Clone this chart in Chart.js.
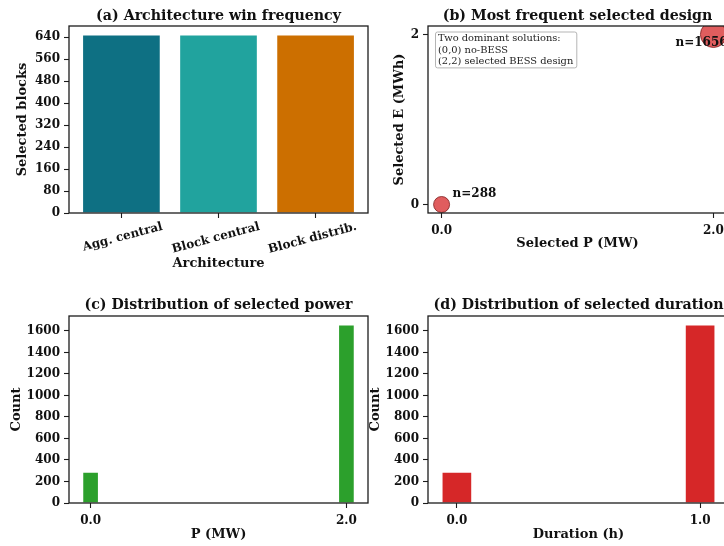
<!DOCTYPE html>
<html>
<head>
<meta charset="utf-8">
<script src="https://cdn.jsdelivr.net/npm/chart.js@4.4.1/dist/chart.umd.min.js"></script>
<style>
  html, body { margin: 0; padding: 0; background: #fff; width: 724px; height: 546px; overflow: hidden; }
  .panel { position: absolute; }
  canvas { display: block; }
</style>
</head>
<body>
<div class="panel" style="left:0px;top:0px"><canvas id="panelA" width="370" height="280" style="width:370px;height:280px"></canvas></div>
<div class="panel" style="left:370px;top:0px"><canvas id="panelB" width="360" height="280" style="width:360px;height:280px"></canvas></div>
<div class="panel" style="left:0px;top:280px"><canvas id="panelC" width="370" height="266" style="width:370px;height:266px"></canvas></div>
<div class="panel" style="left:360px;top:280px"><canvas id="panelD" width="370" height="266" style="width:370px;height:266px"></canvas></div>
<script>
// ---- data ----------------------------------------------------------------
const architectures = ['Agg. central', 'Block central', 'Block distrib.'];
const archWins = [648, 648, 648];
const archPositions = [0, 1, 2];
const archTicks = [0, 80, 160, 240, 320, 400, 480, 560, 640];

const designP = [0, 2];          // selected power, MW
const designE = [0, 2];          // selected energy, MWh
const designCount = [288, 1656];
const designPTicks = [0, 2];
const designETicks = [0, 2];
const designNote = ['Two dominant solutions:', '(0,0) no-BESS', '(2,2) selected BESS design'];

const powerValues = [0, 2];
const powerCounts = [288, 1656];
const powerTicks = [0, 2];

const durationValues = [0, 1];
const durationCounts = [288, 1656];
const durationTicks = [0, 1];

const countTicks = [0, 200, 400, 600, 800, 1000, 1200, 1400, 1600];

// ---- styling -------------------------------------------------------------
const FAMILY = "'DejaVu Serif', serif";
const INK = '#111';
const SPINE = '#1c1c1c';

Chart.defaults.font.family = FAMILY;
Chart.defaults.color = INK;
Chart.defaults.animation = false;

function scale(o) {
  const horiz = o.axis === 'x';
  return {
    type: 'linear',
    position: horiz ? 'bottom' : 'left',
    min: o.min,
    max: o.max,
    offset: false,
    grid: { display: true, offset: false, drawOnChartArea: false, drawTicks: true,
            tickLength: 5, tickWidth: 1.1, color: SPINE },
    border: { display: false },
    ticks: {
      color: INK,
      font: { family: FAMILY, size: 12, weight: 'bold' },
      padding: o.tickPad !== undefined ? o.tickPad : 4,
      autoSkip: false,
      minRotation: o.rotation || 0,
      maxRotation: o.rotation || 0,
      labelOffset: o.labelOffset || 0,
      callback: o.format
    },
    title: {
      display: true,
      text: o.title,
      color: INK,
      font: { family: FAMILY, size: 13, weight: 'bold' },
      padding: horiz ? { top: 0, bottom: o.titlePad } : { top: o.titlePad, bottom: 0 }
    },
    afterBuildTicks: s => { s.ticks = o.values.map(v => ({ value: v })); },
    afterFit: s => {
      if (horiz) { s.height = o.size; s.paddingLeft = 0; s.paddingRight = 0; }
      else { s.width = o.size; s.paddingTop = 0; s.paddingBottom = 0; }
    }
  };
}

function title(text, top, bottom) {
  return {
    display: true, text, fullSize: false, color: INK,
    font: { family: FAMILY, size: 14.2, weight: 'bold' },
    padding: { top, bottom }
  };
}

// box around the plotting area
const frame = {
  id: 'frame',
  afterDatasetsDraw(chart) {
    const { ctx, chartArea: a } = chart;
    ctx.save();
    ctx.strokeStyle = SPINE;
    ctx.lineWidth = 1.3;
    ctx.strokeRect(a.left, a.top, a.right - a.left, a.bottom - a.top);
    ctx.restore();
  }
};

// count labels beside the design points and the explanatory note
const designLabels = {
  id: 'designLabels',
  afterDraw(chart, args, opts) {
    const { ctx, chartArea: a } = chart;
    const xs = chart.scales.x, ys = chart.scales.y;
    ctx.save();
    ctx.fillStyle = INK;
    ctx.font = "bold 12px " + FAMILY;
    ctx.textBaseline = 'middle';
    ctx.textAlign = 'left';
    designCount.forEach((n, i) => {
      const [dx, dy] = opts.offsets[i];
      ctx.fillText('n=' + n, xs.getPixelForValue(designP[i]) + dx, ys.getPixelForValue(designE[i]) + dy);
    });

    ctx.font = "9.9px " + FAMILY;
    const lineH = 11.3;
    const w = Math.max(...designNote.map(t => ctx.measureText(t).width));
    const bx = a.left + 7.5, by = a.top + 6;
    ctx.beginPath();
    ctx.roundRect(bx, by, w + 6, lineH * designNote.length + 2, 2);
    ctx.fillStyle = 'rgba(255,255,255,0.85)';
    ctx.fill();
    ctx.strokeStyle = '#b5b5b5';
    ctx.lineWidth = 1;
    ctx.stroke();
    ctx.fillStyle = '#222';
    designNote.forEach((t, i) => ctx.fillText(t, bx + 2.5, by + 6.8 + i * lineH));
    ctx.restore();
  }
};

// (a) architecture win frequency
new Chart(document.getElementById('panelA'), {
  type: 'bar',
  data: {
    datasets: [{
      data: archPositions.map((p, i) => ({ x: p, y: archWins[i] })),
      backgroundColor: ['#0e7083', '#21a39e', '#cc6f00'],
      borderColor: 'rgba(255,255,255,0.55)',
      borderWidth: 1,
      barThickness: 78
    }]
  },
  options: {
    responsive: false,
    layout: { autoPadding: false, padding: { left: 0, right: 2, top: 0, bottom: 0 } },
    plugins: { legend: { display: false }, tooltip: { enabled: false },
               title: title('(a) Architecture win frequency', 7.5, 1.46) },
    scales: {
      x: scale({ axis: 'x', min: -0.54, max: 2.54, values: archPositions, size: 67, titlePad: 8.8,
                 title: 'Architecture', rotation: 15, labelOffset: 41, tickPad: 1.5,
                 format: v => architectures[v] }),
      y: scale({ axis: 'y', min: 0, max: 680.4, values: archTicks, size: 69, titlePad: 15.2,
                 title: 'Selected blocks', format: v => String(v) })
    }
  },
  plugins: [frame]
});

// (b) most frequent selected design
new Chart(document.getElementById('panelB'), {
  type: 'scatter',
  data: {
    datasets: [{
      data: designP.map((p, i) => ({ x: p, y: designE[i] })),
      backgroundColor: 'rgba(214,39,40,0.75)',
      borderColor: '#7d2020',
      borderWidth: 0.8,
      pointRadius: [8, 13],
      clip: 0
    }]
  },
  options: {
    responsive: false,
    layout: { autoPadding: false, padding: { left: 0, right: 3, top: 0, bottom: 0 } },
    plugins: { legend: { display: false }, tooltip: { enabled: false },
               title: title('(b) Most frequent selected design', 7.5, 1.46),
               designLabels: { offsets: [[11, -10.5], [-38, 8.5]] } },
    scales: {
      x: scale({ axis: 'x', min: -0.1, max: 2.1, values: designPTicks, size: 67, titlePad: 28.2,
                 tickPad: 6, title: 'Selected P (MW)', format: v => v.toFixed(1) }),
      y: scale({ axis: 'y', min: -0.1, max: 2.1, values: designETicks, size: 58, titlePad: 22.2,
                 title: 'Selected E (MWh)', format: v => String(v) })
    }
  },
  plugins: [frame, designLabels]
});

// (c) distribution of selected power
new Chart(document.getElementById('panelC'), {
  type: 'bar',
  data: {
    datasets: [{
      data: powerValues.map((p, i) => ({ x: p, y: powerCounts[i] })),
      backgroundColor: '#2ca02c',
      borderColor: 'rgba(255,255,255,0.5)',
      borderWidth: 1,
      barThickness: 16
    }]
  },
  options: {
    responsive: false,
    layout: { autoPadding: false, padding: { left: 0, right: 2, top: 0, bottom: 0 } },
    plugins: { legend: { display: false }, tooltip: { enabled: false },
               title: title('(c) Distribution of selected power', 16.5, 2.46) },
    scales: {
      x: scale({ axis: 'x', min: -0.16875, max: 2.16875, values: powerTicks, size: 43, titlePad: 3.2,
                 tickPad: 5.5, title: 'P (MW)', format: v => v.toFixed(1) }),
      y: scale({ axis: 'y', min: 0, max: 1738.8, values: countTicks, size: 69, titlePad: 9.2,
                 title: 'Count', format: v => String(v) })
    }
  },
  plugins: [frame]
});

// (d) distribution of selected duration
new Chart(document.getElementById('panelD'), {
  type: 'bar',
  data: {
    datasets: [{
      data: durationValues.map((d, i) => ({ x: d, y: durationCounts[i] })),
      backgroundColor: '#d62728',
      borderColor: 'rgba(255,255,255,0.5)',
      borderWidth: 1,
      barThickness: 30
    }]
  },
  options: {
    responsive: false,
    layout: { autoPadding: false, padding: { left: 0, right: 1, top: 0, bottom: 0 } },
    plugins: { legend: { display: false }, tooltip: { enabled: false },
               title: title('(d) Distribution of selected duration', 16.5, 2.46) },
    scales: {
      x: scale({ axis: 'x', min: -0.11875, max: 1.11875, values: durationTicks, size: 43, titlePad: 3.2,
                 tickPad: 5.5, title: 'Duration (h)', format: v => v.toFixed(1) }),
      y: scale({ axis: 'y', min: 0, max: 1738.8, values: countTicks, size: 68, titlePad: 8.2,
                 title: 'Count', format: v => String(v) })
    }
  },
  plugins: [frame]
});
</script>
</body>
</html>
